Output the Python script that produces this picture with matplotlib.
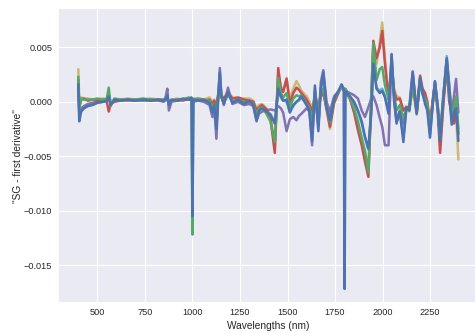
import matplotlib
matplotlib.use("Agg")
import matplotlib.pyplot as plt
import seaborn as sns
import numpy as np

# Wavelength sample positions (nm)
wavelengths = [400, 405, 415, 430, 450, 475, 500, 530, 550, 560, 570, 590, 620, 660, 700, 740, 780,
               820, 850, 860, 868, 876, 890, 920, 950, 980, 995, 1000, 1005, 1030, 1060, 1090, 1105,
               1115, 1126, 1135, 1144, 1152, 1165, 1187, 1210, 1240, 1270, 1300, 1320, 1337, 1350,
               1365, 1389, 1410, 1433, 1451, 1465, 1477, 1495, 1512, 1530, 1547, 1560, 1573, 1600,
               1615, 1629, 1644, 1662, 1675, 1688, 1705, 1723, 1745, 1765, 1784, 1795, 1800, 1805,
               1828, 1850, 1870, 1890, 1907, 1925, 1940, 1951, 1968, 1985, 1998, 2012, 2031, 2047,
               2060, 2073, 2090, 2109, 2125, 2140, 2158, 2179, 2197, 2210, 2223, 2235, 2249, 2262,
               2275, 2290, 2302, 2320, 2337, 2350, 2363, 2375, 2386, 2398]

# Savitzky-Golay first derivative values, in units of 1e-3
lightblue_vals = [1.8, -1.2, -0.7, -0.5, -0.3, -0.2, -0.1, 0.0, 0.1, 0.4, -0.2, 0.1, 0.1, 0.2, 0.1, 0.2, 0.1,
                  0.2, 0.1, 0.2, 0.5, -0.2, 0.1, 0.1, 0.2, 0.2, 0.3, 0.2, 0.1, 0.1, 0.1, 0.0, -0.8,
                  -0.3, -2.2, 0.3, 2.5, 0.5, -0.1, 0.8, 0.0, 0.1, -0.1, 0.0, -0.2, -1.5, -0.8,
                  -0.6, -0.9, -1.1, -1.9, 1.0, 0.4, 0.1, 0.0, -0.9, -0.4, 0.0, 0.1, 0.4, -0.3,
                  -0.7, -3.0, 1.2, -2.3, 1.1, 2.4, -0.4, -1.6, 0.3, 0.9, 1.5, 1.2, 1.0, 1.1,
                  0.5, -0.1, -0.9, -2.0, -3.3, -4.4, -1.0, 3.3, 1.3, 1.0, 1.2, 0.6, -0.8, 4.0,
                  0.6, -1.6, -0.8, -3.2, -0.6, -0.8, 2.4, -1.0, 2.1, 0.7, 0.0, -0.6, -3.0, -0.4,
                  1.8, -0.5, -3.5, 0.7, 4.2, 1.5, -1.5, -0.8, 0.3, -2.8]
yellow_vals = [3.0, 0.2, 0.4, 0.3, 0.3, 0.2, 0.2, 0.3, 0.2, 0.8, 0.0, 0.2, 0.2, 0.3, 0.2, 0.2, 0.3,
               0.2, 0.2, 0.2, 0.3, 0.0, 0.2, 0.3, 0.2, 0.3, 0.3, 0.2, 0.3, 0.3, 0.2, 0.4, 0.0,
               0.2, -0.3, 0.7, 1.3, 0.6, 0.4, 0.9, 0.4, 0.3, 0.3, 0.3, 0.1, -0.6, -0.3,
               -0.2, -0.6, -1.3, -4.0, 2.6, 1.4, 1.0, 2.2, 0.3, 1.2, 1.9, 1.5, 1.0, 0.5,
               0.0, -0.6, 0.6, -0.2, 0.7, 1.0, -0.5, -2.5, 0.0, 0.8, 1.5, 1.2, 1.0, 0.9,
               0.2, -0.9, -2.5, -3.8, -5.0, -6.0, -0.5, 5.0, 3.5, 5.5, 7.3, 4.0, 0.5, 3.2,
               1.2, 0.5, 0.4, -0.8, -0.4, -0.9, 1.2, -1.2, 1.9, 0.8, 0.2, -0.5, -2.2, -0.3,
               1.5, -0.8, -4.0, 0.2, 3.2, 0.5, -1.8, -1.5, -1.0, -5.3]
purple_vals = [1.5, -1.0, -0.6, -0.4, -0.2, -0.1, 0.0, 0.1, 0.1, 0.4, -0.2, 0.1, 0.2, 0.1, 0.2, 0.1, 0.2,
               0.1, 0.0, 0.5, 1.2, -0.8, 0.0, 0.1, 0.2, 0.2, 0.2, 0.1, 0.0, 0.1, 0.0, -0.3, -1.4,
               -0.5, -3.4, 0.2, 3.1, 0.6, -0.3, 1.3, -0.2, 0.0, -0.3, -0.2, -0.4, -1.8, -1.1,
               -0.9, -0.8, -0.7, -0.8, -0.4, -0.6, -1.0, -2.7, -1.6, -1.4, -1.7, -1.3, -1.1, -0.6,
               -0.9, -4.0, 0.8, -2.2, 1.8, 2.9, 0.0, -0.9, 0.5, 0.9, 1.4, 1.0, 1.1, 1.0,
               0.8, 0.6, 0.3, -0.8, -1.4, -0.5, 0.3, 0.5, -0.3, -1.5, -2.3, -4.0, -4.0, 4.4,
               0.0, -1.8, -0.9, -2.0, -0.6, -0.5, 2.8, -1.0, 2.0, 1.0, 0.5, -0.2, -2.6, -0.2,
               1.8, -0.6, -3.0, 0.8, 3.9, 1.5, -1.0, 0.5, 2.1, -1.0]
red_vals = [2.0, -0.5, 0.2, 0.3, 0.1, 0.2, 0.1, 0.1, 0.0, -0.9, -0.2, 0.0, 0.1, 0.2, 0.1, 0.2, 0.1,
            0.2, 0.1, 0.2, 0.3, 0.0, 0.1, 0.2, 0.1, 0.3, 0.3, 0.2, 0.2, 0.2, 0.1, 0.2, -0.2,
            0.1, -0.6, 0.6, 1.2, 0.5, 0.3, 0.8, 0.3, 0.4, 0.2, 0.1, 0.0, -0.8, -0.5,
            -0.3, -0.7, -1.5, -4.7, 3.1, 1.2, 0.9, 2.1, -0.2, 0.8, 1.3, 1.1, 0.8, 0.2,
            -0.3, -0.9, 0.4, -0.5, 0.5, 0.8, -0.7, -2.3, -0.1, 0.7, 1.5, 1.2, 1.1, 0.9,
            0.3, -1.0, -2.6, -4.0, -5.5, -6.9, 0.0, 5.6, 4.0, 5.0, 6.5, 3.5, 0.2, 3.0,
            1.0, 0.2, 0.3, -0.8, -0.5, -0.7, 1.5, -0.8, 2.4, 1.2, 0.8, 0.0, -2.0, 0.0,
            1.7, -1.0, -4.7, 0.0, 3.3, 0.0, -1.0, -2.0, -1.0, -3.0]
green_vals = [2.3, -0.6, 0.3, 0.2, 0.2, 0.2, 0.3, 0.2, 0.3, 1.3, -0.4, 0.3, 0.2, 0.2, 0.2, 0.3, 0.2,
              0.2, 0.2, 0.1, 0.3, -0.1, 0.1, 0.2, 0.2, 0.4, 0.3, -12.2, 0.2, 0.3, 0.2, 0.1, -0.5,
              -0.2, -1.4, 0.5, 1.8, 0.4, 0.0, 0.6, 0.1, 0.2, 0.0, 0.0, -0.2, -1.2, -0.6,
              -0.5, -1.1, -1.8, -3.7, 2.2, 0.8, 0.4, 0.8, -0.5, 0.3, 0.6, 0.5, 0.6, -0.2,
              -0.6, -1.5, 0.6, -1.0, 0.8, 1.2, -0.4, -1.9, 0.2, 0.8, 1.4, 1.1, 1.0, 1.2,
              0.3, -0.6, -1.8, -3.3, -4.5, -6.5, 0.5, 5.4, 2.0, 3.0, 3.2, 1.5, 0.3, 3.5,
              0.8, -0.8, -0.3, -1.5, -0.7, -0.8, 1.6, -1.0, 2.0, 0.7, 0.3, -0.3, -2.5, -0.3,
              1.6, -0.5, -3.5, 0.5, 3.6, 0.8, -1.5, -0.5, 0.5, -2.5]
blue_vals = [1.6, -1.8, -0.9, -0.6, -0.4, -0.3, -0.1, 0.0, 0.1, 0.5, -0.3, 0.2, 0.1, 0.2, 0.1, 0.2, 0.1,
             0.2, 0.1, 0.3, 0.6, -0.3, 0.2, 0.1, 0.3, 0.2, 0.4, -10.5, 0.2, 0.1, 0.2, -0.1, -1.0,
             -0.3, -2.5, 0.3, 2.7, 0.5, -0.2, 0.9, -0.1, 0.2, -0.2, 0.1, -0.3, -1.7, -0.8,
             -0.6, -0.9, -1.2, -2.0, 1.2, 0.5, 0.1, 0.2, -1.0, -0.3, 0.0, 0.2, 0.5, -0.3,
             -0.8, -3.6, 1.5, -2.7, 1.2, 2.7, -0.5, -1.7, 0.3, 0.9, 1.6, 1.2, -17.2, 1.0,
             0.5, 0.0, -0.8, -1.8, -3.2, -4.3, -1.0, 3.5, 1.2, 0.8, 1.0, 0.4, -1.1, 4.3,
             0.5, -2.0, -0.9, -3.7, -0.5, -0.8, 2.7, -1.1, 2.2, 0.8, -0.2, -0.8, -3.3, -0.5,
             1.9, -0.5, -3.6, 0.5, 4.0, 1.0, -2.1, -1.0, -0.6, -3.6]

series = [lightblue_vals, yellow_vals, purple_vals, red_vals, green_vals, blue_vals]
colors = ["#64B5CD", "#CCB974", "#8172B2", "#C44E52", "#55A868", "#4C72B0"]

x_ticks = [500, 750, 1000, 1250, 1500, 1750, 2000, 2250]
y_ticks = [-0.015, -0.010, -0.005, 0.0, 0.005]

sns.set_style("darkgrid")
plt.rcParams['font.family'] = ['Liberation Sans', 'DejaVu Sans']
plt.rcParams['text.color'] = '#262626'
plt.rcParams['axes.labelcolor'] = '#262626'
plt.rcParams['xtick.color'] = '#262626'
plt.rcParams['ytick.color'] = '#262626'
plt.rcParams['xtick.major.size'] = 0
plt.rcParams['ytick.major.size'] = 0

fig = plt.figure(figsize=(4.75, 3.33), dpi=100)
ax = fig.add_axes([0.1248, 0.0922, 0.881, 0.8808])

wl = np.array(wavelengths)
for vals, c in zip(series, colors):
    ax.plot(wl, np.array(vals) * 1e-3, color=c, lw=1.8)

ax.set_xlim(300, 2500)
ax.set_xticks(x_ticks)
ax.set_yticks(y_ticks)
ax.tick_params(axis='both', labelsize=6.6, length=0)
ax.tick_params(axis='y', pad=5)
ax.tick_params(axis='x', pad=4)
ax.set_xlabel("Wavelengths (nm)", fontsize=7.3, labelpad=3)
ax.set_ylabel('"SG - first derivative"', fontsize=7.3, labelpad=1)
for s in ax.spines.values():
    s.set_visible(False)

fig.savefig("out.png", dpi=100)
